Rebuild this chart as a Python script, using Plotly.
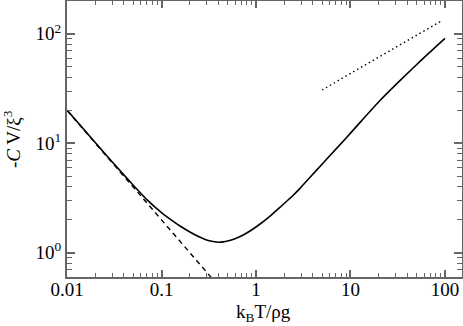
import plotly.graph_objects as go

# curve (kBT/rho g , -C V/xi^3)
x_curve = [0.01, 0.02, 0.03, 0.05, 0.07, 0.1, 0.133, 0.16, 0.2, 0.25, 0.3, 0.35,
           0.4, 0.45, 0.5, 0.6, 0.75, 1.0, 1.4, 1.79, 2.4, 2.92, 4.31, 6, 8.75,
           13, 20.5, 30, 44.8, 67, 100]
y_curve = [20.1, 10.1, 6.79, 4.16, 3.06, 2.33, 1.94, 1.74, 1.55, 1.40, 1.31, 1.27,
           1.25, 1.258, 1.28, 1.345, 1.47, 1.72, 2.15, 2.6, 3.27, 3.88, 5.6, 7.65, 10.9,
           15.95, 24.6, 34.2, 47.7, 66.3, 91]

# low temperature asymptote (dashed)
x_low = [0.01, 0.342]
y_low = [20.0, 0.585]

# high temperature power law guide (dotted)
x_high = [5, 93]
y_high = [30.7, 132]

x_ticks = [0.01, 0.1, 1, 10, 100]
x_ticktext = ["0.01", "0.1", "1", "10", "100"]
y_ticks = [1, 10, 100]
y_ticktext = ["10<sup>0</sup>", "10<sup>1</sup>", "10<sup>2</sup>"]

def minor_vals(lo, hi):
    out = []
    for e in range(lo, hi):
        for m in range(2, 10):
            out.append(m * 10 ** e)
    return out

font = dict(family="Liberation Serif, Times New Roman, serif", size=19, color="black")
axcol = "#666666"

fig = go.Figure()
fig.add_trace(go.Scatter(x=x_curve, y=y_curve, mode="lines",
                         line=dict(color="black", width=1.6, shape="spline", smoothing=0.5)))
fig.add_trace(go.Scatter(x=x_low, y=y_low, mode="lines",
                         line=dict(color="black", width=1.4, dash="5px,4px")))
fig.add_trace(go.Scatter(x=x_high, y=y_high, mode="lines",
                         line=dict(color="black", width=1.4, dash="1.5px,3px")))

fig.update_layout(
    width=463, height=326,
    margin=dict(l=67, r=1, t=1, b=49),
    plot_bgcolor="white", paper_bgcolor="white",
    showlegend=False,
    font=font,
)
fig.update_xaxes(
    type="log", range=[-2, 2.18], automargin=False,
    tickmode="array", tickvals=x_ticks, ticktext=x_ticktext,
    ticks="inside", ticklen=7, tickwidth=1.5, tickcolor=axcol,
    ticklabelstandoff=-6,
    minor=dict(tickmode="array", tickvals=minor_vals(-2, 3), ticks="inside",
               ticklen=4, tickwidth=1.2, tickcolor=axcol, showgrid=False),
    showline=True, linecolor=axcol, linewidth=2, mirror="allticks",
    showgrid=False, zeroline=False,
)
fig.update_yaxes(
    type="log", range=[-0.221, 2.30], automargin=False,
    tickmode="array", tickvals=y_ticks, ticktext=y_ticktext,
    ticks="inside", ticklen=8, tickwidth=1.5, tickcolor=axcol,
    minor=dict(tickmode="array", tickvals=minor_vals(-1, 3), ticks="inside",
               ticklen=5, tickwidth=1.2, tickcolor=axcol, showgrid=False),
    showline=True, linecolor=axcol, linewidth=2, mirror="allticks",
    showgrid=False, zeroline=False,
)

# axis titles placed as annotations
fig.add_annotation(text="k<sub>B</sub>T/ρg", xref="paper", yref="paper",
                   x=0.497, y=-0.132, xanchor="center", yanchor="middle",
                   showarrow=False, font=font)
fig.add_annotation(text="-<i>C</i> V/ξ<sup>3</sup>", xref="paper", yref="paper",
                   x=-0.139, y=0.5, xanchor="center", yanchor="middle",
                   textangle=-90, showarrow=False, font=font)

fig.write_html("out.html", config={"displayModeBar": False},
               post_script="document.body.style.margin='0';")
